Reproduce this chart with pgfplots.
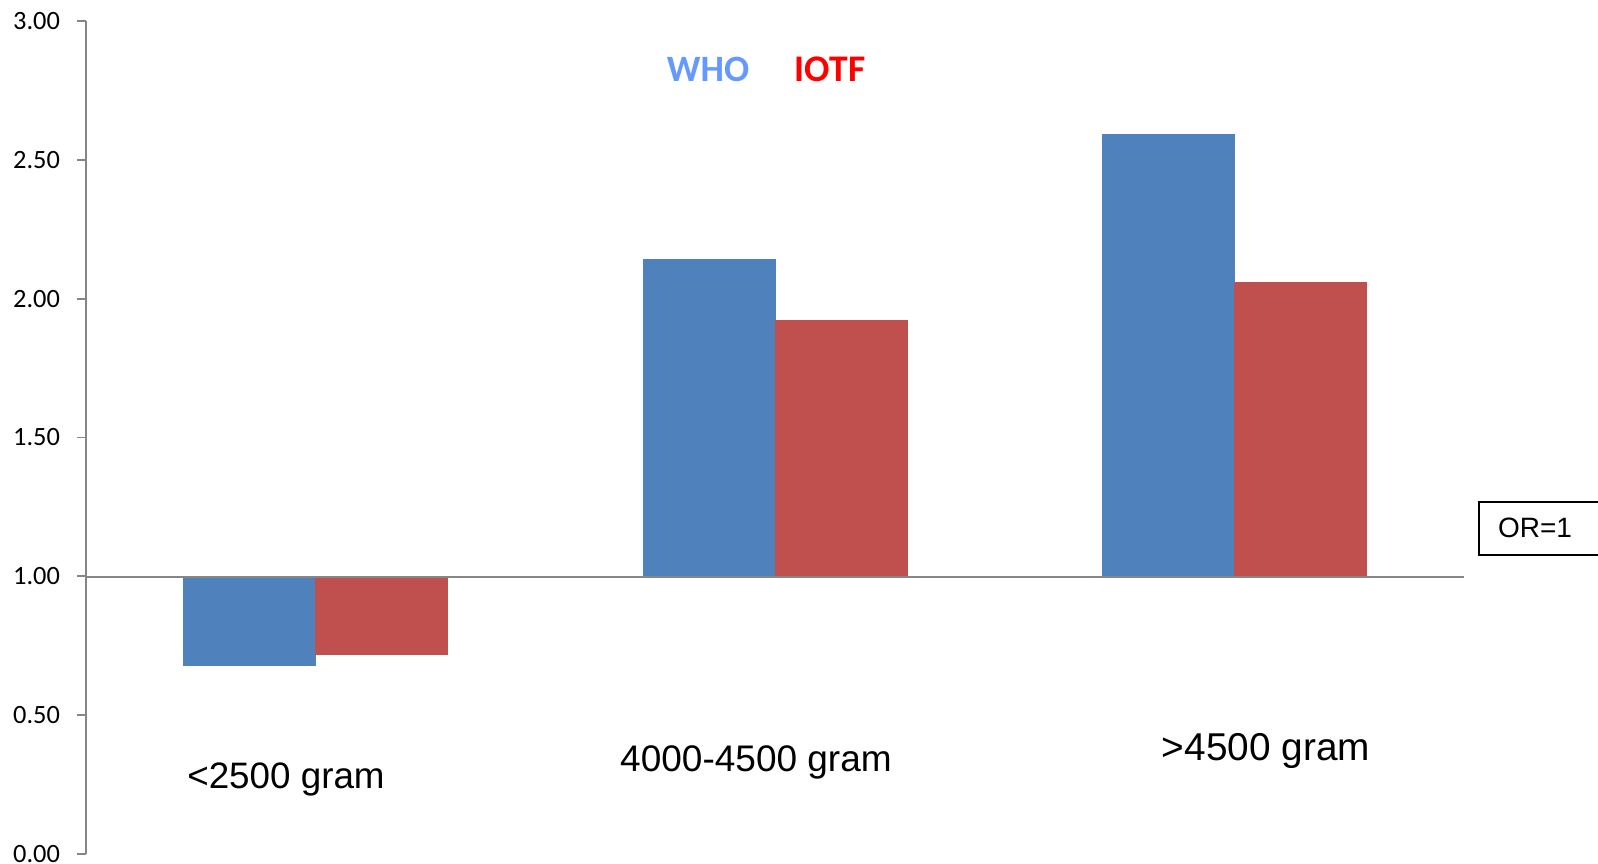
\documentclass[border=0pt]{standalone}
\usepackage{pgfplots}
\pgfplotsset{compat=1.18}
\usepackage{fontspec}
\setmainfont{Liberation Sans}
\newfontfamily\carlito{Carlito}
\definecolor{barblue}{HTML}{4F81BD}
\definecolor{barred}{HTML}{C0504D}
\definecolor{whoblue}{HTML}{6699FF}
\definecolor{axgray}{HTML}{868686}
\begin{document}
\begin{tikzpicture}
\useasboundingbox (-43pt,-4.5pt) rectangle (756pt,427pt);
\begin{axis}[
  at={(0pt,0pt)}, anchor=south west,
  scale only axis, width=689pt, height=416.5pt,
  xmin=-0.5, xmax=2.5, ymin=0, ymax=3,
  y coord trafo/.code={\pgfmathparse{#1-1}},
  y coord inv trafo/.code={\pgfmathparse{#1+1}},
  axis y line*=left, axis x line=none,
  axis line style={axgray, line width=0.9pt},
  ytick={0,0.5,1,1.5,2,2.5,3},
  tick align=outside, major tick length=4.5pt,
  tick style={axgray, line width=0.9pt},
  yticklabel style={font=\carlito\fontsize{13.2}{15}\selectfont, black, xshift=-5pt},
  /pgf/number format/assume math mode=true,
  /pgf/number format/.cd, fixed, fixed zerofill, precision=2,
  /pgfplots/.cd,
  xtick=\empty,
  ybar, bar width=66pt,
  clip=false,
]
\addplot[fill=barblue, draw=barblue, bar shift=-33pt] coordinates {(0,0.68) (1,2.14) (2,2.59)};
\addplot[fill=barred, draw=barred, bar shift=33pt] coordinates {(0,0.72) (1,1.92) (2,2.06)};
\end{axis}
\draw[axgray, line width=0.9pt] (0pt,138.5pt) -- (689pt,138.5pt);
\node[anchor=base, font=\fontsize{18.4}{21}\selectfont, inner sep=0pt] at (100pt,33pt) {<2500 gram};
\node[anchor=base, font=\fontsize{18.5}{21}\selectfont, inner sep=0pt] at (335pt,41.5pt) {4000-4500 gram};
\node[anchor=base, font=\fontsize{19.4}{22}\selectfont, inner sep=0pt] at (590pt,47pt) {>4500 gram};
\node[anchor=base, font=\carlito\bfseries\fontsize{18.6}{21}\selectfont, text=whoblue, inner sep=0pt] at (311pt,386pt) {WHO};
\node[anchor=base, font=\carlito\bfseries\fontsize{18.8}{21}\selectfont, text=red, inner sep=0pt] at (372pt,386pt) {IOTF};
\draw[black, line width=1pt] (696.5pt,149.5pt) rectangle (767pt,176pt);
\node[font=\fontsize{14}{16}\selectfont, inner sep=0pt] at (724.5pt,163pt) {OR=1};
\end{tikzpicture}
\end{document}
